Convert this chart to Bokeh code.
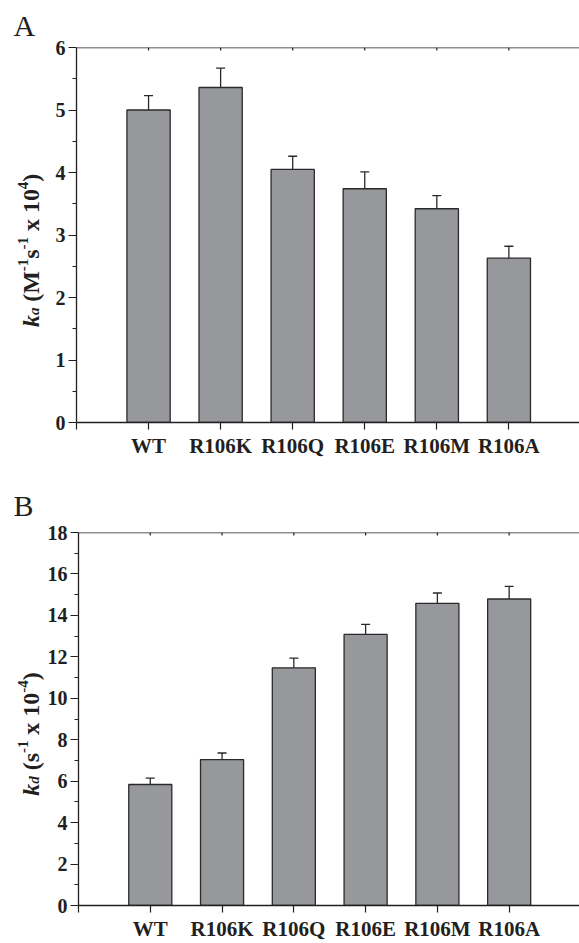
import math
from bokeh.plotting import figure
from bokeh.models import (FixedTicker, Whisker, TeeHead, Span,
                          ColumnDataSource, Range1d)
from bokeh.core.properties import value
from bokeh.layouts import column, row
from bokeh.embed import file_html
from bokeh.resources import INLINE

# ---------------- data ----------------
categories = ["WT", "R106K", "R106Q", "R106E", "R106M", "R106A"]
ka_values = [5.00, 5.36, 4.05, 3.74, 3.42, 2.63]
ka_errors = [0.23, 0.31, 0.21, 0.27, 0.21, 0.19]
kd_values = [5.84, 7.04, 11.47, 13.08, 14.58, 14.79]
kd_errors = [0.31, 0.32, 0.47, 0.49, 0.50, 0.61]
ka_ticks = [0, 1, 2, 3, 4, 5, 6]
kd_ticks = [0, 2, 4, 6, 8, 10, 12, 14, 16, 18]

# ---------------- style ----------------
FONT = "Liberation Serif"
INK = "#231f20"
BAR_FILL = "#97989c"
BAR_LINE = "#2a2a2a"
SIDE_W = 44
MAIN_W = 535
BORDER_L = 32
X_END = 6.98
MAIN_SZ = 24
SUP_SZ = 15
SUP_SHIFT = -8
SUB_SHIFT = 3

W_BOLD = {" ": 0.25, "(": 0.333, ")": 0.333, "M": 0.944, "s": 0.389, "x": 0.5,
          "-": 0.333, "0": 0.5, "1": 0.5, "4": 0.5}
W_BI = {"k": 0.5, "a": 0.5, "d": 0.5}


def text_width(t, size, style):
    table = W_BI if "italic" in style else W_BOLD
    return sum(table.get(c, 0.5) for c in t) * size


def side_panel(height, btop, frame_h, letter, letter_standoff, pieces, base_x,
               start_from_top):
    bbot = height - btop - frame_h
    s = figure(width=SIDE_W, height=height, x_range=Range1d(0, SIDE_W),
               y_range=Range1d(bbot, bbot + frame_h), output_backend="svg",
               toolbar_location=None, x_axis_location=None, y_axis_location=None,
               min_border_left=0, min_border_right=0, min_border_top=btop,
               min_border_bottom=bbot)
    s.outline_line_color = None
    s.grid.visible = False
    s.title.text = letter
    s.title.text_font = FONT
    s.title.text_font_size = "30px"
    s.title.text_font_style = "normal"
    s.title.text_color = INK
    s.title.align = "left"
    s.title.offset = 13
    s.title.standoff = letter_standoff
    pos = height - start_from_top
    for t, kind, style in pieces:
        size = MAIN_SZ if kind == "main" else SUP_SZ
        shift = {"main": 0, "sup": SUP_SHIFT, "sub": SUB_SHIFT}[kind]
        if t.startswith(" "):
            pos += text_width(" ", size, style)
            t = t[1:]
        s.text(x=[base_x + shift], y=[pos], text=[t], angle=math.pi / 2,
               text_font=value(FONT), text_font_size=f"{size}px",
               text_font_style=style, text_color=INK, text_align="left",
               text_baseline="alphabetic")
        pos += text_width(t, size, style)
    return s


def make_panel(values, errors, yticks, height, btop, frame_h, label_standoff):
    ymax = yticks[-1]
    px_y = frame_h / ymax
    bbot = height - btop - frame_h
    p = figure(width=MAIN_W, height=height, x_range=Range1d(0, X_END),
               y_range=Range1d(0, ymax), output_backend="svg",
               toolbar_location=None, min_border_left=BORDER_L,
               min_border_right=0, min_border_top=btop, min_border_bottom=bbot)
    p.outline_line_color = None
    p.xgrid.visible = False
    p.ygrid.visible = False

    xs = list(range(1, len(categories) + 1))
    src = ColumnDataSource(dict(x=xs, top=values,
                                upper=[v + e for v, e in zip(values, errors)]))
    p.vbar(x="x", top="top", bottom=0, width=0.6, source=src,
           fill_color=BAR_FILL, line_color=BAR_LINE, line_width=1.3)
    p.add_layout(Whisker(base="x", lower="top", upper="upper", source=src,
                         dimension="height", line_color=BAR_LINE, line_width=1.3,
                         upper_head=TeeHead(size=9, line_color=BAR_LINE, line_width=1.3),
                         lower_head=None, level="overlay"))

    # top border line with small inward ticks
    p.add_layout(Span(location=ymax, dimension="width", line_color=INK, line_width=1.3))
    p.segment(x0=xs, y0=[ymax] * len(xs), x1=xs, y1=[ymax - 3 / px_y] * len(xs),
              line_color=INK, line_width=1.2)

    xa = p.xaxis[0]
    xa.ticker = FixedTicker(ticks=xs, minor_ticks=[0])
    xa.major_label_overrides = {i: c for i, c in zip(xs, categories)}
    xa.major_tick_out = 7
    xa.major_tick_in = 0
    xa.minor_tick_out = 7
    xa.minor_tick_in = 0
    xa.major_label_standoff = label_standoff
    xa.major_label_text_font = FONT
    xa.major_label_text_font_style = "bold"
    xa.major_label_text_font_size = "21px"
    xa.major_label_text_color = INK

    ya = p.yaxis[0]
    minors = [(a + b) / 2 for a, b in zip(yticks[:-1], yticks[1:])]
    ya.ticker = FixedTicker(ticks=yticks, minor_ticks=minors)
    ya.major_tick_out = 8
    ya.major_tick_in = 0
    ya.minor_tick_out = 4
    ya.minor_tick_in = 0
    ya.major_label_standoff = 3
    ya.major_label_text_font = FONT
    ya.major_label_text_font_style = "bold"
    ya.major_label_text_font_size = "20px"
    ya.major_label_text_color = INK

    for ax in (xa, ya):
        ax.axis_line_color = INK
        ax.axis_line_width = 1.3
        ax.major_tick_line_color = INK
        ax.major_tick_line_width = 1.2
        ax.minor_tick_line_color = INK
        ax.minor_tick_line_width = 1.2
    return p


pieces_a = [("k", "main", "bold italic"), ("a", "sub", "bold italic"),
            (" (M", "main", "bold"), ("-1", "sup", "bold"), ("s", "main", "bold"),
            ("-1", "sup", "bold"), (" x 10", "main", "bold"), ("4", "sup", "bold"),
            (")", "main", "bold")]
pieces_b = [("k", "main", "bold italic"), ("d", "sub", "bold italic"),
            (" (s", "main", "bold"), ("-1", "sup", "bold"), (" x 10", "main", "bold"),
            ("-4", "sup", "bold"), (")", "main", "bold")]

H_A, H_B = 470, 473
sa = side_panel(H_A, 45, 377, "A", 12, pieces_a, 30, 326)
pa = make_panel(ka_values, ka_errors, ka_ticks, H_A, 45, 377, 4)
sb = side_panel(H_B, 62, 374, "B", 22, pieces_b, 30, 326)
pb = make_panel(kd_values, kd_errors, kd_ticks, H_B, 62, 374, 4)

layout = column(row(sa, pa, spacing=0), row(sb, pb, spacing=0), spacing=0)
open("out.html", "w").write(file_html(layout, INLINE))
